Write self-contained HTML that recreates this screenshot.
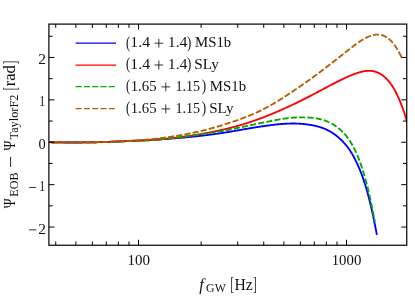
<!DOCTYPE html><html><head><meta charset="utf-8"><style>html,body{margin:0;padding:0;background:#fff}</style></head><body><svg width="415" height="298" viewBox="0 0 415 298" style="display:block;will-change:transform"><rect width="415" height="298" fill="#fff"/><clipPath id="c"><rect x="48.9" y="24.1" width="357.85" height="221.15"/></clipPath><g fill="none" clip-path="url(#c)" stroke-linejoin="round"><path d="M49.00,142.14 L49.50,142.15 L50.00,142.17 L50.50,142.18 L51.00,142.19 L51.50,142.21 L52.00,142.22 L52.50,142.23 L53.00,142.25 L53.50,142.26 L54.00,142.27 L54.50,142.28 L55.00,142.29 L55.50,142.30 L56.00,142.31 L56.50,142.33 L57.00,142.34 L57.50,142.34 L58.00,142.35 L58.50,142.36 L59.00,142.37 L59.50,142.38 L60.00,142.39 L60.50,142.40 L61.00,142.40 L61.50,142.41 L62.00,142.42 L62.50,142.42 L63.00,142.43 L63.50,142.44 L64.00,142.44 L64.50,142.45 L65.00,142.45 L65.50,142.46 L66.00,142.46 L66.50,142.47 L67.00,142.47 L67.50,142.47 L68.00,142.48 L68.50,142.48 L69.00,142.48 L69.50,142.48 L70.00,142.49 L70.50,142.49 L71.00,142.49 L71.50,142.49 L72.00,142.49 L72.50,142.49 L73.00,142.49 L73.50,142.49 L74.00,142.49 L74.50,142.49 L75.00,142.49 L75.50,142.49 L76.00,142.49 L76.50,142.49 L77.00,142.49 L77.50,142.48 L78.00,142.48 L78.50,142.48 L79.00,142.47 L79.50,142.47 L80.00,142.47 L80.50,142.46 L81.00,142.46 L81.50,142.46 L82.00,142.45 L82.50,142.45 L83.00,142.44 L83.50,142.43 L84.00,142.43 L84.50,142.42 L85.00,142.42 L85.50,142.41 L86.00,142.40 L86.50,142.40 L87.00,142.39 L87.50,142.38 L88.00,142.37 L88.50,142.37 L89.00,142.36 L89.50,142.35 L90.00,142.34 L90.50,142.33 L91.00,142.32 L91.50,142.31 L92.00,142.30 L92.50,142.29 L93.00,142.28 L93.50,142.27 L94.00,142.26 L94.50,142.25 L95.00,142.24 L95.50,142.22 L96.00,142.21 L96.50,142.20 L97.00,142.19 L97.50,142.18 L98.00,142.16 L98.50,142.15 L99.00,142.14 L99.50,142.12 L100.00,142.11 L100.50,142.09 L101.00,142.08 L101.50,142.07 L102.00,142.05 L102.50,142.04 L103.00,142.02 L103.50,142.01 L104.00,141.99 L104.50,141.97 L105.00,141.96 L105.50,141.94 L106.00,141.92 L106.50,141.91 L107.00,141.89 L107.50,141.87 L108.00,141.86 L108.50,141.84 L109.00,141.82 L109.50,141.80 L110.00,141.78 L110.50,141.77 L111.00,141.75 L111.50,141.73 L112.00,141.71 L112.50,141.69 L113.00,141.67 L113.50,141.65 L114.00,141.63 L114.50,141.61 L115.00,141.59 L115.50,141.57 L116.00,141.55 L116.50,141.53 L117.00,141.50 L117.50,141.48 L118.00,141.46 L118.50,141.44 L119.00,141.42 L119.50,141.40 L120.00,141.37 L120.50,141.35 L121.00,141.33 L121.50,141.30 L122.00,141.28 L122.50,141.26 L123.00,141.23 L123.50,141.21 L124.00,141.19 L124.50,141.16 L125.00,141.14 L125.50,141.11 L126.00,141.09 L126.50,141.06 L127.00,141.04 L127.50,141.01 L128.00,140.99 L128.50,140.97 L129.00,140.95 L129.50,140.93 L130.00,140.91 L130.50,140.88 L131.00,140.86 L131.50,140.84 L132.00,140.82 L132.50,140.80 L133.00,140.78 L133.50,140.75 L134.00,140.73 L134.50,140.71 L135.00,140.69 L135.50,140.66 L136.00,140.64 L136.50,140.62 L137.00,140.60 L137.50,140.57 L138.00,140.55 L138.50,140.52 L139.00,140.50 L139.50,140.48 L140.00,140.45 L140.50,140.43 L141.00,140.40 L141.50,140.38 L142.00,140.35 L142.50,140.33 L143.00,140.30 L143.50,140.28 L144.00,140.25 L144.50,140.23 L145.00,140.20 L145.50,140.18 L146.00,140.15 L146.50,140.12 L147.00,140.10 L147.50,140.07 L148.00,140.04 L148.50,140.02 L149.00,139.99 L149.50,139.96 L150.00,139.94 L150.50,139.91 L151.00,139.88 L151.50,139.85 L152.00,139.83 L152.50,139.80 L153.00,139.77 L153.50,139.74 L154.00,139.71 L154.50,139.69 L155.00,139.66 L155.50,139.63 L156.00,139.60 L156.50,139.57 L157.00,139.54 L157.50,139.50 L158.00,139.47 L158.50,139.44 L159.00,139.40 L159.50,139.37 L160.00,139.34 L160.50,139.30 L161.00,139.27 L161.50,139.24 L162.00,139.20 L162.50,139.17 L163.00,139.14 L163.50,139.10 L164.00,139.07 L164.50,139.03 L165.00,139.00 L165.50,138.96 L166.00,138.93 L166.50,138.89 L167.00,138.86 L167.50,138.82 L168.00,138.78 L168.50,138.75 L169.00,138.71 L169.50,138.68 L170.00,138.64 L170.50,138.60 L171.00,138.56 L171.50,138.53 L172.00,138.49 L172.50,138.45 L173.00,138.41 L173.50,138.38 L174.00,138.34 L174.50,138.30 L175.00,138.26 L175.50,138.22 L176.00,138.18 L176.50,138.14 L177.00,138.10 L177.50,138.06 L178.00,138.02 L178.50,137.98 L179.00,137.94 L179.50,137.90 L180.00,137.86 L180.50,137.82 L181.00,137.77 L181.50,137.73 L182.00,137.69 L182.50,137.65 L183.00,137.60 L183.50,137.56 L184.00,137.52 L184.50,137.47 L185.00,137.43 L185.50,137.38 L186.00,137.33 L186.50,137.29 L187.00,137.24 L187.50,137.19 L188.00,137.14 L188.50,137.10 L189.00,137.05 L189.50,137.00 L190.00,136.95 L190.50,136.90 L191.00,136.85 L191.50,136.80 L192.00,136.75 L192.50,136.70 L193.00,136.65 L193.50,136.60 L194.00,136.54 L194.50,136.49 L195.00,136.44 L195.50,136.39 L196.00,136.33 L196.50,136.28 L197.00,136.22 L197.50,136.17 L198.00,136.12 L198.50,136.06 L199.00,136.00 L199.50,135.95 L200.00,135.89 L200.50,135.84 L201.00,135.78 L201.50,135.72 L202.00,135.66 L202.50,135.60 L203.00,135.55 L203.50,135.49 L204.00,135.43 L204.50,135.37 L205.00,135.31 L205.50,135.24 L206.00,135.18 L206.50,135.12 L207.00,135.06 L207.50,135.00 L208.00,134.93 L208.50,134.87 L209.00,134.81 L209.50,134.74 L210.00,134.68 L210.50,134.61 L211.00,134.54 L211.50,134.48 L212.00,134.41 L212.50,134.34 L213.00,134.28 L213.50,134.21 L214.00,134.15 L214.50,134.08 L215.00,134.01 L215.50,133.94 L216.00,133.87 L216.50,133.80 L217.00,133.73 L217.50,133.66 L218.00,133.59 L218.50,133.52 L219.00,133.45 L219.50,133.37 L220.00,133.30 L220.50,133.23 L221.00,133.15 L221.50,133.08 L222.00,133.00 L222.50,132.93 L223.00,132.85 L223.50,132.77 L224.00,132.70 L224.50,132.62 L225.00,132.54 L225.50,132.46 L226.00,132.38 L226.50,132.30 L227.00,132.22 L227.50,132.14 L228.00,132.06 L228.50,131.97 L229.00,131.89 L229.50,131.81 L230.00,131.72 L230.50,131.64 L231.00,131.55 L231.50,131.47 L232.00,131.38 L232.50,131.30 L233.00,131.21 L233.50,131.12 L234.00,131.04 L234.50,130.95 L235.00,130.86 L235.50,130.78 L236.00,130.69 L236.50,130.60 L237.00,130.51 L237.50,130.42 L238.00,130.33 L238.50,130.25 L239.00,130.16 L239.50,130.07 L240.00,129.98 L240.50,129.89 L241.00,129.81 L241.50,129.72 L242.00,129.63 L242.50,129.54 L243.00,129.46 L243.50,129.37 L244.00,129.28 L244.50,129.19 L245.00,129.11 L245.50,129.02 L246.00,128.93 L246.50,128.85 L247.00,128.76 L247.50,128.68 L248.00,128.59 L248.50,128.50 L249.00,128.42 L249.50,128.33 L250.00,128.25 L250.50,128.16 L251.00,128.08 L251.50,128.00 L252.00,127.91 L252.50,127.83 L253.00,127.75 L253.50,127.66 L254.00,127.58 L254.50,127.50 L255.00,127.42 L255.50,127.34 L256.00,127.26 L256.50,127.18 L257.00,127.10 L257.50,127.02 L258.00,126.95 L258.50,126.87 L259.00,126.79 L259.50,126.72 L260.00,126.64 L260.50,126.57 L261.00,126.49 L261.50,126.42 L262.00,126.35 L262.50,126.28 L263.00,126.21 L263.50,126.14 L264.00,126.07 L264.50,126.00 L265.00,125.93 L265.50,125.86 L266.00,125.80 L266.50,125.73 L267.00,125.67 L267.50,125.61 L268.00,125.54 L268.50,125.47 L269.00,125.40 L269.50,125.33 L270.00,125.26 L270.50,125.19 L271.00,125.13 L271.50,125.06 L272.00,125.00 L272.50,124.93 L273.00,124.87 L273.50,124.81 L274.00,124.75 L274.50,124.69 L275.00,124.63 L275.50,124.58 L276.00,124.52 L276.50,124.47 L277.00,124.42 L277.50,124.36 L278.00,124.31 L278.50,124.27 L279.00,124.22 L279.50,124.17 L280.00,124.13 L280.50,124.09 L281.00,124.04 L281.50,124.00 L282.00,123.97 L282.50,123.93 L283.00,123.89 L283.50,123.86 L284.00,123.83 L284.50,123.79 L285.00,123.77 L285.50,123.74 L286.00,123.71 L286.50,123.69 L287.00,123.66 L287.50,123.64 L288.00,123.62 L288.50,123.60 L289.00,123.59 L289.50,123.57 L290.00,123.56 L290.50,123.55 L291.00,123.54 L291.50,123.53 L292.00,123.53 L292.50,123.53 L293.00,123.52 L293.50,123.52 L294.00,123.53 L294.50,123.53 L295.00,123.54 L295.50,123.54 L296.00,123.55 L296.50,123.57 L297.00,123.59 L297.50,123.61 L298.00,123.64 L298.50,123.66 L299.00,123.69 L299.50,123.72 L300.00,123.75 L300.50,123.78 L301.00,123.82 L301.50,123.86 L302.00,123.90 L302.50,123.94 L303.00,123.99 L303.50,124.03 L304.00,124.08 L304.50,124.14 L305.00,124.19 L305.50,124.25 L306.00,124.30 L306.50,124.37 L307.00,124.43 L307.50,124.50 L308.00,124.56 L308.50,124.63 L309.00,124.71 L309.50,124.78 L310.00,124.86 L310.50,124.94 L311.00,125.03 L311.50,125.11 L312.00,125.20 L312.50,125.29 L313.00,125.39 L313.50,125.49 L314.00,125.59 L314.50,125.70 L315.00,125.80 L315.50,125.92 L316.00,126.03 L316.50,126.15 L317.00,126.28 L317.50,126.41 L318.00,126.54 L318.50,126.68 L319.00,126.82 L319.50,126.97 L320.00,127.12 L320.50,127.28 L321.00,127.44 L321.50,127.61 L322.00,127.78 L322.50,127.96 L323.00,128.14 L323.50,128.33 L324.00,128.53 L324.50,128.74 L325.00,128.95 L325.50,129.17 L326.00,129.39 L326.50,129.62 L327.00,129.86 L327.50,130.11 L328.00,130.36 L328.50,130.62 L329.00,130.88 L329.50,131.16 L330.00,131.44 L330.50,131.72 L331.00,132.02 L331.50,132.32 L332.00,132.63 L332.50,132.95 L333.00,133.28 L333.50,133.62 L334.00,133.96 L334.50,134.31 L335.00,134.68 L335.50,135.05 L336.00,135.43 L336.50,135.81 L337.00,136.21 L337.50,136.62 L338.00,137.03 L338.50,137.46 L339.00,137.89 L339.50,138.34 L340.00,138.79 L340.50,139.26 L341.00,139.74 L341.50,140.22 L342.00,140.72 L342.50,141.23 L343.00,141.75 L343.50,142.28 L344.00,142.83 L344.50,143.38 L345.00,143.95 L345.50,144.53 L346.00,145.12 L346.50,145.73 L347.00,146.34 L347.50,146.98 L348.00,147.63 L348.50,148.30 L349.00,148.98 L349.50,149.68 L349.98,150.40 L350.44,151.13 L350.91,151.89 L351.37,152.66 L351.83,153.45 L352.30,154.06 L352.75,154.90 L353.21,155.76 L353.67,156.63 L354.12,157.53 L354.58,158.45 L355.03,159.39 L355.50,160.35 L356.00,161.34 L356.50,162.35 L357.00,163.38 L357.50,164.43 L358.00,165.51 L358.50,166.62 L359.00,167.77 L359.50,168.94 L360.00,170.14 L360.50,171.38 L361.00,172.66 L361.50,173.97 L362.00,175.33 L362.50,176.72 L363.00,178.16 L363.50,179.65 L364.01,181.18 L364.53,182.76 L365.05,184.39 L365.58,186.07 L366.10,187.81 L366.62,189.60 L367.14,191.44 L367.67,193.35 L368.19,195.31 L368.72,197.34 L369.25,199.42 L369.79,201.56 L370.32,203.75 L370.86,205.99 L371.39,208.27 L371.93,210.60 L372.47,212.96 L373.00,215.36 L373.50,217.79 L374.00,220.25 L374.50,222.73 L375.00,225.24 L375.50,227.77 L376.00,230.31 L376.50,232.87 L376.90,234.92" stroke="#0000ff" stroke-width="1.85"/><path d="M49.00,142.17 L49.50,142.18 L50.00,142.19 L50.50,142.20 L51.00,142.20 L51.50,142.21 L52.00,142.22 L52.50,142.23 L53.00,142.24 L53.50,142.24 L54.00,142.25 L54.50,142.26 L55.00,142.27 L55.50,142.27 L56.00,142.28 L56.50,142.29 L57.00,142.29 L57.50,142.30 L58.00,142.31 L58.50,142.31 L59.00,142.32 L59.50,142.32 L60.00,142.33 L60.50,142.33 L61.00,142.34 L61.50,142.34 L62.00,142.35 L62.50,142.35 L63.00,142.36 L63.50,142.36 L64.00,142.37 L64.50,142.37 L65.00,142.37 L65.50,142.38 L66.00,142.38 L66.50,142.38 L67.00,142.39 L67.50,142.39 L68.00,142.39 L68.50,142.40 L69.00,142.40 L69.50,142.40 L70.00,142.40 L70.50,142.40 L71.00,142.40 L71.50,142.41 L72.00,142.41 L72.50,142.41 L73.00,142.41 L73.50,142.41 L74.00,142.41 L74.50,142.41 L75.00,142.41 L75.50,142.41 L76.00,142.41 L76.50,142.41 L77.00,142.41 L77.50,142.41 L78.00,142.40 L78.50,142.40 L79.00,142.40 L79.50,142.40 L80.00,142.40 L80.50,142.39 L81.00,142.39 L81.50,142.39 L82.00,142.39 L82.50,142.38 L83.00,142.38 L83.50,142.38 L84.00,142.37 L84.50,142.37 L85.00,142.36 L85.50,142.36 L86.00,142.35 L86.50,142.35 L87.00,142.34 L87.50,142.34 L88.00,142.33 L88.50,142.33 L89.00,142.32 L89.50,142.31 L90.00,142.31 L90.50,142.30 L91.00,142.29 L91.50,142.29 L92.00,142.28 L92.50,142.27 L93.00,142.26 L93.50,142.25 L94.00,142.25 L94.50,142.24 L95.00,142.23 L95.50,142.22 L96.00,142.21 L96.50,142.20 L97.00,142.19 L97.50,142.18 L98.00,142.17 L98.50,142.16 L99.00,142.15 L99.50,142.14 L100.00,142.13 L100.50,142.11 L101.00,142.10 L101.50,142.09 L102.00,142.08 L102.50,142.07 L103.00,142.05 L103.50,142.04 L104.00,142.03 L104.50,142.01 L105.00,142.00 L105.50,141.99 L106.00,141.97 L106.50,141.96 L107.00,141.94 L107.50,141.93 L108.00,141.91 L108.50,141.90 L109.00,141.88 L109.50,141.86 L110.00,141.85 L110.50,141.83 L111.00,141.81 L111.50,141.80 L112.00,141.78 L112.50,141.76 L113.00,141.74 L113.50,141.72 L114.00,141.71 L114.50,141.69 L115.00,141.67 L115.50,141.65 L116.00,141.63 L116.50,141.61 L117.00,141.59 L117.50,141.57 L118.00,141.55 L118.50,141.53 L119.00,141.51 L119.50,141.48 L120.00,141.46 L120.50,141.44 L121.00,141.42 L121.50,141.39 L122.00,141.37 L122.50,141.35 L123.00,141.32 L123.50,141.30 L124.00,141.28 L124.50,141.25 L125.00,141.23 L125.50,141.20 L126.00,141.18 L126.50,141.15 L127.00,141.13 L127.50,141.10 L128.00,141.07 L128.50,141.06 L129.00,141.04 L129.50,141.03 L130.00,141.01 L130.50,141.00 L131.00,140.98 L131.50,140.97 L132.00,140.95 L132.50,140.93 L133.00,140.92 L133.50,140.90 L134.00,140.88 L134.50,140.86 L135.00,140.85 L135.50,140.83 L136.00,140.81 L136.50,140.79 L137.00,140.77 L137.50,140.75 L138.00,140.73 L138.50,140.71 L139.00,140.69 L139.50,140.67 L140.00,140.65 L140.50,140.63 L141.00,140.60 L141.50,140.58 L142.00,140.56 L142.50,140.54 L143.00,140.51 L143.50,140.49 L144.00,140.47 L144.50,140.44 L145.00,140.42 L145.50,140.39 L146.00,140.37 L146.50,140.34 L147.00,140.32 L147.50,140.29 L148.00,140.26 L148.50,140.24 L149.00,140.21 L149.50,140.18 L150.00,140.15 L150.50,140.12 L151.00,140.10 L151.50,140.07 L152.00,140.04 L152.50,140.01 L153.00,139.98 L153.50,139.95 L154.00,139.92 L154.50,139.89 L155.00,139.86 L155.50,139.82 L156.00,139.79 L156.50,139.75 L157.00,139.70 L157.50,139.66 L158.00,139.61 L158.50,139.57 L159.00,139.52 L159.50,139.47 L160.00,139.43 L160.50,139.38 L161.00,139.33 L161.50,139.28 L162.00,139.23 L162.50,139.18 L163.00,139.14 L163.50,139.09 L164.00,139.04 L164.50,138.99 L165.00,138.93 L165.50,138.88 L166.00,138.83 L166.50,138.78 L167.00,138.73 L167.50,138.68 L168.00,138.62 L168.50,138.57 L169.00,138.52 L169.50,138.46 L170.00,138.41 L170.50,138.35 L171.00,138.30 L171.50,138.24 L172.00,138.19 L172.50,138.13 L173.00,138.07 L173.50,138.02 L174.00,137.96 L174.50,137.90 L175.00,137.84 L175.50,137.78 L176.00,137.73 L176.50,137.67 L177.00,137.61 L177.50,137.55 L178.00,137.49 L178.50,137.43 L179.00,137.36 L179.50,137.30 L180.00,137.24 L180.50,137.18 L181.00,137.11 L181.50,137.05 L182.00,136.99 L182.50,136.92 L183.00,136.86 L183.50,136.79 L184.00,136.73 L184.50,136.66 L185.00,136.59 L185.50,136.52 L186.00,136.44 L186.50,136.37 L187.00,136.30 L187.50,136.23 L188.00,136.15 L188.50,136.08 L189.00,136.01 L189.50,135.93 L190.00,135.85 L190.50,135.78 L191.00,135.70 L191.50,135.63 L192.00,135.55 L192.50,135.47 L193.00,135.39 L193.50,135.31 L194.00,135.23 L194.50,135.15 L195.00,135.07 L195.50,134.99 L196.00,134.91 L196.50,134.82 L197.00,134.74 L197.50,134.66 L198.00,134.57 L198.50,134.49 L199.00,134.40 L199.50,134.31 L200.00,134.23 L200.50,134.14 L201.00,134.05 L201.50,133.96 L202.00,133.87 L202.50,133.78 L203.00,133.69 L203.50,133.60 L204.00,133.51 L204.50,133.41 L205.00,133.32 L205.50,133.23 L206.00,133.13 L206.50,133.03 L207.00,132.94 L207.50,132.84 L208.00,132.74 L208.50,132.64 L209.00,132.55 L209.50,132.45 L210.00,132.34 L210.50,132.24 L211.00,132.14 L211.50,132.04 L212.00,131.93 L212.50,131.84 L213.00,131.74 L213.50,131.65 L214.00,131.55 L214.50,131.45 L215.00,131.35 L215.50,131.25 L216.00,131.15 L216.50,131.05 L217.00,130.94 L217.50,130.84 L218.00,130.74 L218.50,130.63 L219.00,130.53 L219.50,130.42 L220.00,130.31 L220.50,130.20 L221.00,130.09 L221.50,129.98 L222.00,129.87 L222.50,129.76 L223.00,129.65 L223.50,129.54 L224.00,129.42 L224.50,129.31 L225.00,129.19 L225.50,129.07 L226.00,128.95 L226.50,128.84 L227.00,128.72 L227.50,128.60 L228.00,128.47 L228.50,128.35 L229.00,128.23 L229.50,128.10 L230.00,127.98 L230.50,127.85 L231.00,127.73 L231.50,127.60 L232.00,127.47 L232.50,127.34 L233.00,127.21 L233.50,127.08 L234.00,126.94 L234.50,126.81 L235.00,126.68 L235.50,126.54 L236.00,126.40 L236.50,126.27 L237.00,126.13 L237.50,125.99 L238.00,125.85 L238.50,125.71 L239.00,125.56 L239.50,125.42 L240.00,125.27 L240.50,125.13 L241.00,124.98 L241.50,124.82 L242.00,124.67 L242.50,124.52 L243.00,124.37 L243.50,124.21 L244.00,124.05 L244.50,123.90 L245.00,123.74 L245.50,123.58 L246.00,123.42 L246.50,123.26 L247.00,123.10 L247.50,122.94 L248.00,122.77 L248.50,122.61 L249.00,122.45 L249.50,122.28 L250.00,122.11 L250.50,121.94 L251.00,121.78 L251.50,121.61 L252.00,121.44 L252.50,121.26 L253.00,121.09 L253.50,120.92 L254.00,120.74 L254.50,120.57 L255.00,120.39 L255.50,120.22 L256.00,120.04 L256.50,119.86 L257.00,119.68 L257.50,119.50 L258.00,119.32 L258.50,119.14 L259.00,118.95 L259.50,118.77 L260.00,118.59 L260.50,118.40 L261.00,118.21 L261.50,118.03 L262.00,117.84 L262.50,117.65 L263.00,117.46 L263.50,117.27 L264.00,117.08 L264.50,116.89 L265.00,116.70 L265.50,116.50 L266.00,116.31 L266.50,116.11 L267.00,115.92 L267.50,115.72 L268.00,115.52 L268.50,115.32 L269.00,115.12 L269.50,114.91 L270.00,114.71 L270.50,114.50 L271.00,114.30 L271.50,114.09 L272.00,113.88 L272.50,113.68 L273.00,113.47 L273.50,113.26 L274.00,113.05 L274.50,112.84 L275.00,112.62 L275.50,112.41 L276.00,112.20 L276.50,111.98 L277.00,111.77 L277.50,111.55 L278.00,111.34 L278.50,111.12 L279.00,110.90 L279.50,110.68 L280.00,110.46 L280.50,110.24 L281.00,110.02 L281.50,109.80 L282.00,109.58 L282.50,109.36 L283.00,109.13 L283.50,108.91 L284.00,108.68 L284.50,108.46 L285.00,108.23 L285.50,108.01 L286.00,107.78 L286.50,107.55 L287.00,107.32 L287.50,107.09 L288.00,106.86 L288.50,106.63 L289.00,106.40 L289.50,106.17 L290.00,105.93 L290.50,105.70 L291.00,105.47 L291.50,105.23 L292.00,105.00 L292.50,104.76 L293.00,104.52 L293.50,104.28 L294.00,104.05 L294.50,103.81 L295.00,103.57 L295.50,103.33 L296.00,103.09 L296.50,102.85 L297.00,102.60 L297.50,102.36 L298.00,102.11 L298.50,101.87 L299.00,101.62 L299.50,101.38 L300.00,101.13 L300.50,100.88 L301.00,100.64 L301.50,100.39 L302.00,100.14 L302.50,99.89 L303.00,99.64 L303.50,99.39 L304.00,99.14 L304.50,98.89 L305.00,98.63 L305.50,98.38 L306.00,98.13 L306.50,97.87 L307.00,97.62 L307.50,97.36 L308.00,97.11 L308.50,96.85 L309.00,96.60 L309.50,96.34 L310.00,96.08 L310.50,95.82 L311.00,95.56 L311.50,95.30 L312.00,95.04 L312.50,94.78 L313.00,94.52 L313.50,94.26 L314.00,94.00 L314.50,93.74 L315.00,93.48 L315.50,93.21 L316.00,92.95 L316.50,92.68 L317.00,92.42 L317.50,92.15 L318.00,91.89 L318.50,91.62 L319.00,91.36 L319.50,91.09 L320.00,90.82 L320.50,90.55 L321.00,90.29 L321.50,90.02 L322.00,89.75 L322.50,89.48 L323.00,89.21 L323.50,88.94 L324.00,88.67 L324.50,88.40 L325.00,88.13 L325.50,87.87 L326.00,87.60 L326.50,87.33 L327.00,87.06 L327.50,86.79 L328.00,86.52 L328.50,86.26 L329.00,85.99 L329.50,85.73 L330.00,85.46 L330.50,85.20 L331.00,84.94 L331.50,84.67 L332.00,84.41 L332.50,84.15 L333.00,83.89 L333.50,83.63 L334.00,83.37 L334.50,83.11 L335.00,82.85 L335.50,82.60 L336.00,82.34 L336.50,82.09 L337.00,81.83 L337.50,81.58 L338.00,81.33 L338.50,81.08 L339.00,80.83 L339.50,80.59 L340.00,80.34 L340.50,80.10 L341.00,79.85 L341.50,79.61 L342.00,79.37 L342.50,79.13 L343.00,78.89 L343.50,78.66 L344.00,78.42 L344.50,78.19 L345.00,77.96 L345.50,77.73 L346.00,77.51 L346.50,77.28 L347.00,77.06 L347.50,76.84 L348.00,76.62 L348.50,76.40 L349.00,76.19 L349.50,75.98 L350.00,75.77 L350.50,75.56 L351.00,75.35 L351.50,75.15 L352.00,74.95 L352.50,74.75 L353.00,74.55 L353.50,74.36 L354.00,74.17 L354.50,73.98 L355.00,73.79 L355.50,73.61 L356.00,73.43 L356.50,73.26 L357.00,73.09 L357.50,72.92 L358.00,72.76 L358.50,72.60 L359.00,72.45 L359.50,72.30 L360.00,72.16 L360.50,72.03 L361.00,71.90 L361.50,71.77 L362.00,71.66 L362.50,71.54 L363.00,71.44 L363.50,71.34 L364.00,71.25 L364.50,71.17 L365.00,71.10 L365.50,71.03 L366.00,70.97 L366.50,70.93 L367.00,70.88 L367.50,70.85 L368.00,70.83 L368.50,70.82 L369.00,70.82 L369.50,70.82 L370.00,70.84 L370.50,70.87 L371.00,70.91 L371.50,70.95 L372.00,71.01 L372.50,71.09 L373.00,71.17 L373.50,71.27 L374.00,71.37 L374.50,71.49 L375.00,71.62 L375.50,71.77 L376.00,71.93 L376.50,72.10 L377.00,72.28 L377.50,72.48 L378.00,72.70 L378.50,72.93 L379.00,73.17 L379.50,73.43 L380.00,73.71 L380.50,74.00 L381.00,74.30 L381.50,74.63 L382.00,74.97 L382.50,75.33 L383.00,75.71 L383.50,76.11 L384.00,76.52 L384.50,76.93 L385.00,77.37 L385.50,77.82 L386.00,78.29 L386.50,78.78 L387.00,79.29 L387.50,79.83 L388.00,80.38 L388.50,80.96 L389.00,81.56 L389.50,82.18 L390.00,82.83 L390.50,83.49 L391.00,84.19 L391.50,84.90 L392.00,85.64 L392.50,86.41 L393.00,87.20 L393.50,88.01 L394.00,88.85 L394.50,89.72 L395.00,90.61 L395.50,91.55 L396.00,92.52 L396.50,93.52 L397.00,94.55 L397.50,95.60 L398.00,96.68 L398.50,97.79 L399.00,98.93 L399.50,100.10 L400.00,101.30 L400.50,102.53 L401.00,103.79 L401.50,105.08 L402.00,106.41 L402.50,107.76 L403.00,109.15 L403.50,110.56 L404.00,112.02 L404.50,113.50 L405.00,115.02 L405.50,116.57 L406.00,118.16 L406.50,119.78 L407.00,121.43 L407.50,123.12" stroke="#ff0000" stroke-width="1.85"/><path d="M49.00,142.18 L49.50,142.18 L50.00,142.19 L50.50,142.20 L51.00,142.20 L51.50,142.21 L52.00,142.22 L52.50,142.22 L53.00,142.23 L53.50,142.24 L54.00,142.24 L54.50,142.25 L55.00,142.25 L55.50,142.26 L56.00,142.27 L56.50,142.27 L57.00,142.28 L57.50,142.28 L58.00,142.29 L58.50,142.29 L59.00,142.30 L59.50,142.30 L60.00,142.31 L60.50,142.31 L61.00,142.32 L61.50,142.32 L62.00,142.32 L62.50,142.33 L63.00,142.33 L63.50,142.34 L64.00,142.34 L64.50,142.34 L65.00,142.35 L65.50,142.35 L66.00,142.35 L66.50,142.36 L67.00,142.36 L67.50,142.36 L68.00,142.36 L68.50,142.37 L69.00,142.37 L69.50,142.37 L70.00,142.37 L70.50,142.37 L71.00,142.37 L71.50,142.38 L72.00,142.38 L72.50,142.38 L73.00,142.38 L73.50,142.38 L74.00,142.38 L74.50,142.38 L75.00,142.38 L75.50,142.38 L76.00,142.38 L76.50,142.38 L77.00,142.38 L77.50,142.38 L78.00,142.38 L78.50,142.38 L79.00,142.38 L79.50,142.38 L80.00,142.37 L80.50,142.37 L81.00,142.37 L81.50,142.37 L82.00,142.37 L82.50,142.36 L83.00,142.36 L83.50,142.36 L84.00,142.35 L84.50,142.35 L85.00,142.35 L85.50,142.34 L86.00,142.34 L86.50,142.34 L87.00,142.33 L87.50,142.33 L88.00,142.32 L88.50,142.32 L89.00,142.31 L89.50,142.31 L90.00,142.30 L90.50,142.30 L91.00,142.29 L91.50,142.28 L92.00,142.28 L92.50,142.27 L93.00,142.26 L93.50,142.26 L94.00,142.25 L94.50,142.24 L95.00,142.23 L95.50,142.22 L96.00,142.22 L96.50,142.21 L97.00,142.20 L97.50,142.19 L98.00,142.18 L98.50,142.17 L99.00,142.16 L99.50,142.15 L100.00,142.14 L100.50,142.13 L101.00,142.12 L101.50,142.11 L102.00,142.10 L102.50,142.09 L103.00,142.07 L103.50,142.06 L104.00,142.05 L104.50,142.04 L105.00,142.03 L105.50,142.01 L106.00,142.00 L106.50,141.99 L107.00,141.97 L107.50,141.96 L108.00,141.94 L108.50,141.93 L109.00,141.91 L109.50,141.90 L110.00,141.88 L110.50,141.87 L111.00,141.85 L111.50,141.84 L112.00,141.82 L112.50,141.80 L113.00,141.78 L113.50,141.77 L114.00,141.75 L114.50,141.73 L115.00,141.71 L115.50,141.69 L116.00,141.68 L116.50,141.66 L117.00,141.64 L117.50,141.62 L118.00,141.60 L118.50,141.58 L119.00,141.56 L119.50,141.54 L120.00,141.51 L120.50,141.49 L121.00,141.47 L121.50,141.45 L122.00,141.43 L122.50,141.40 L123.00,141.38 L123.50,141.36 L124.00,141.33 L124.50,141.31 L125.00,141.28 L125.50,141.26 L126.00,141.24 L126.50,141.21 L127.00,141.18 L127.50,141.16 L128.00,141.13 L128.50,141.12 L129.00,141.10 L129.50,141.09 L130.00,141.07 L130.50,141.06 L131.00,141.04 L131.50,141.03 L132.00,141.01 L132.50,140.99 L133.00,140.98 L133.50,140.96 L134.00,140.94 L134.50,140.92 L135.00,140.90 L135.50,140.88 L136.00,140.86 L136.50,140.84 L137.00,140.82 L137.50,140.80 L138.00,140.78 L138.50,140.76 L139.00,140.74 L139.50,140.72 L140.00,140.70 L140.50,140.67 L141.00,140.65 L141.50,140.63 L142.00,140.60 L142.50,140.58 L143.00,140.56 L143.50,140.53 L144.00,140.51 L144.50,140.48 L145.00,140.46 L145.50,140.43 L146.00,140.40 L146.50,140.38 L147.00,140.35 L147.50,140.32 L148.00,140.29 L148.50,140.26 L149.00,140.23 L149.50,140.20 L150.00,140.18 L150.50,140.14 L151.00,140.11 L151.50,140.08 L152.00,140.05 L152.50,140.02 L153.00,139.99 L153.50,139.96 L154.00,139.92 L154.50,139.89 L155.00,139.86 L155.50,139.82 L156.00,139.79 L156.50,139.74 L157.00,139.69 L157.50,139.64 L158.00,139.59 L158.50,139.54 L159.00,139.49 L159.50,139.44 L160.00,139.39 L160.50,139.34 L161.00,139.29 L161.50,139.24 L162.00,139.19 L162.50,139.14 L163.00,139.08 L163.50,139.03 L164.00,138.98 L164.50,138.92 L165.00,138.87 L165.50,138.81 L166.00,138.76 L166.50,138.71 L167.00,138.65 L167.50,138.59 L168.00,138.54 L168.50,138.48 L169.00,138.42 L169.50,138.37 L170.00,138.31 L170.50,138.25 L171.00,138.20 L171.50,138.14 L172.00,138.08 L172.50,138.02 L173.00,137.96 L173.50,137.90 L174.00,137.84 L174.50,137.78 L175.00,137.72 L175.50,137.66 L176.00,137.60 L176.50,137.54 L177.00,137.48 L177.50,137.42 L178.00,137.36 L178.50,137.30 L179.00,137.24 L179.50,137.18 L180.00,137.12 L180.50,137.05 L181.00,136.99 L181.50,136.93 L182.00,136.87 L182.50,136.81 L183.00,136.74 L183.50,136.68 L184.00,136.62 L184.50,136.55 L185.00,136.48 L185.50,136.41 L186.00,136.34 L186.50,136.27 L187.00,136.21 L187.50,136.14 L188.00,136.07 L188.50,136.00 L189.00,135.93 L189.50,135.86 L190.00,135.79 L190.50,135.72 L191.00,135.65 L191.50,135.58 L192.00,135.51 L192.50,135.44 L193.00,135.38 L193.50,135.31 L194.00,135.24 L194.50,135.17 L195.00,135.10 L195.50,135.03 L196.00,134.96 L196.50,134.89 L197.00,134.82 L197.50,134.75 L198.00,134.68 L198.50,134.61 L199.00,134.54 L199.50,134.47 L200.00,134.40 L200.50,134.33 L201.00,134.26 L201.50,134.19 L202.00,134.12 L202.50,134.05 L203.00,133.97 L203.50,133.90 L204.00,133.83 L204.50,133.76 L205.00,133.69 L205.50,133.61 L206.00,133.54 L206.50,133.47 L207.00,133.39 L207.50,133.32 L208.00,133.24 L208.50,133.17 L209.00,133.09 L209.50,133.02 L210.00,132.94 L210.50,132.87 L211.00,132.79 L211.50,132.71 L212.00,132.63 L212.50,132.56 L213.00,132.49 L213.50,132.41 L214.00,132.34 L214.50,132.26 L215.00,132.18 L215.50,132.11 L216.00,132.03 L216.50,131.95 L217.00,131.87 L217.50,131.80 L218.00,131.72 L218.50,131.64 L219.00,131.55 L219.50,131.47 L220.00,131.39 L220.50,131.31 L221.00,131.22 L221.50,131.14 L222.00,131.05 L222.50,130.97 L223.00,130.88 L223.50,130.79 L224.00,130.70 L224.50,130.61 L225.00,130.52 L225.50,130.43 L226.00,130.34 L226.50,130.24 L227.00,130.15 L227.50,130.06 L228.00,129.96 L228.50,129.86 L229.00,129.77 L229.50,129.67 L230.00,129.57 L230.50,129.47 L231.00,129.37 L231.50,129.27 L232.00,129.16 L232.50,129.06 L233.00,128.96 L233.50,128.86 L234.00,128.75 L234.50,128.65 L235.00,128.54 L235.50,128.43 L236.00,128.33 L236.50,128.22 L237.00,128.11 L237.50,128.00 L238.00,127.90 L238.50,127.79 L239.00,127.68 L239.50,127.57 L240.00,127.46 L240.50,127.35 L241.00,127.25 L241.50,127.14 L242.00,127.04 L242.50,126.93 L243.00,126.82 L243.50,126.72 L244.00,126.61 L244.50,126.50 L245.00,126.39 L245.50,126.29 L246.00,126.18 L246.50,126.07 L247.00,125.96 L247.50,125.86 L248.00,125.75 L248.50,125.64 L249.00,125.53 L249.50,125.43 L250.00,125.32 L250.50,125.21 L251.00,125.10 L251.50,125.00 L252.00,124.89 L252.50,124.78 L253.00,124.67 L253.50,124.57 L254.00,124.46 L254.50,124.35 L255.00,124.25 L255.50,124.14 L256.00,124.04 L256.50,123.93 L257.00,123.83 L257.50,123.72 L258.00,123.62 L258.50,123.51 L259.00,123.41 L259.50,123.31 L260.00,123.21 L260.50,123.10 L261.00,123.00 L261.50,122.90 L262.00,122.80 L262.50,122.70 L263.00,122.60 L263.50,122.50 L264.00,122.40 L264.50,122.31 L265.00,122.21 L265.50,122.11 L266.00,122.02 L266.50,121.92 L267.00,121.83 L267.50,121.74 L268.00,121.64 L268.50,121.54 L269.00,121.43 L269.50,121.32 L270.00,121.22 L270.50,121.11 L271.00,121.01 L271.50,120.91 L272.00,120.81 L272.50,120.71 L273.00,120.61 L273.50,120.51 L274.00,120.41 L274.50,120.31 L275.00,120.22 L275.50,120.12 L276.00,120.03 L276.50,119.94 L277.00,119.85 L277.50,119.76 L278.00,119.67 L278.50,119.58 L279.00,119.49 L279.50,119.41 L280.00,119.33 L280.50,119.24 L281.00,119.16 L281.50,119.08 L282.00,119.00 L282.50,118.93 L283.00,118.85 L283.50,118.78 L284.00,118.70 L284.50,118.63 L285.00,118.56 L285.50,118.49 L286.00,118.43 L286.50,118.36 L287.00,118.30 L287.50,118.24 L288.00,118.18 L288.50,118.12 L289.00,118.06 L289.50,118.00 L290.00,117.95 L290.50,117.90 L291.00,117.85 L291.50,117.80 L292.00,117.75 L292.50,117.71 L293.00,117.66 L293.50,117.62 L294.00,117.58 L294.50,117.54 L295.00,117.51 L295.50,117.47 L296.00,117.44 L296.50,117.42 L297.00,117.40 L297.50,117.38 L298.00,117.37 L298.50,117.35 L299.00,117.34 L299.50,117.33 L300.00,117.32 L300.50,117.32 L301.00,117.32 L301.50,117.31 L302.00,117.32 L302.50,117.32 L303.00,117.32 L303.50,117.33 L304.00,117.34 L304.50,117.35 L305.00,117.37 L305.50,117.39 L306.00,117.41 L306.50,117.43 L307.00,117.45 L307.50,117.48 L308.00,117.51 L308.50,117.54 L309.00,117.57 L309.50,117.61 L310.00,117.65 L310.50,117.69 L311.00,117.73 L311.50,117.78 L312.00,117.83 L312.50,117.88 L313.00,117.93 L313.50,117.99 L314.00,118.06 L314.50,118.12 L315.00,118.19 L315.50,118.27 L316.00,118.34 L316.50,118.42 L317.00,118.51 L317.50,118.60 L318.00,118.70 L318.50,118.79 L319.00,118.90 L319.50,119.01 L320.00,119.12 L320.50,119.24 L321.00,119.37 L321.50,119.50 L322.00,119.63 L322.50,119.78 L323.00,119.92 L323.50,120.08 L324.00,120.24 L324.50,120.40 L325.00,120.58 L325.50,120.76 L326.00,120.95 L326.50,121.14 L327.00,121.34 L327.50,121.55 L328.00,121.77 L328.50,121.99 L329.00,122.22 L329.50,122.46 L330.00,122.71 L330.50,122.96 L331.00,123.22 L331.50,123.50 L332.00,123.77 L332.50,124.06 L333.00,124.36 L333.50,124.66 L334.00,124.98 L334.50,125.30 L335.00,125.63 L335.50,125.97 L336.00,126.32 L336.50,126.68 L337.00,127.05 L337.50,127.43 L338.00,127.82 L338.50,128.22 L339.00,128.63 L339.50,129.05 L340.00,129.49 L340.50,129.93 L341.00,130.38 L341.50,130.84 L342.00,131.32 L342.50,131.81 L343.00,132.31 L343.50,132.83 L344.00,133.36 L344.50,133.91 L345.00,134.48 L345.50,135.06 L346.00,135.66 L346.50,136.27 L347.00,136.91 L347.50,137.56 L348.00,138.24 L348.50,138.93 L349.00,139.65 L349.50,140.38 L350.00,141.15 L350.50,141.93 L351.00,142.74 L351.50,143.57 L352.00,144.43 L352.50,145.31 L353.00,146.22 L353.50,147.16 L354.00,148.12 L354.50,149.11 L355.00,150.13 L355.50,151.18 L356.00,152.27 L356.50,153.38 L357.00,154.52 L357.50,155.70 L358.00,156.91 L358.50,158.15 L359.00,159.43 L359.50,160.74 L360.00,162.09 L360.50,163.47 L361.00,164.89 L361.50,166.35 L362.00,167.85 L362.50,169.39 L363.00,170.97 L363.50,172.59 L364.00,174.25 L364.50,175.95 L365.00,177.70 L365.50,179.49 L366.00,181.32 L366.50,183.20 L367.00,185.13 L367.50,187.10 L368.00,189.12 L368.50,191.19 L369.00,193.30 L369.50,195.46 L370.00,197.67 L370.50,199.93 L371.00,202.23 L371.50,204.58 L372.00,206.98 L372.50,209.43 L373.00,211.92 L373.50,214.46 L374.00,217.05 L374.50,219.68 L374.90,221.83" stroke="#00aa00" stroke-width="1.85" stroke-dasharray="6.11,2.19" stroke-dashoffset="5.2"/><path d="M49.00,142.16 L49.50,142.17 L50.00,142.18 L50.50,142.19 L51.00,142.19 L51.50,142.20 L52.00,142.21 L52.50,142.22 L53.00,142.22 L53.50,142.23 L54.00,142.24 L54.50,142.24 L55.00,142.25 L55.50,142.26 L56.00,142.26 L56.50,142.27 L57.00,142.28 L57.50,142.28 L58.00,142.29 L58.50,142.30 L59.00,142.30 L59.50,142.31 L60.00,142.31 L60.50,142.32 L61.00,142.32 L61.50,142.33 L62.00,142.33 L62.50,142.34 L63.00,142.34 L63.50,142.35 L64.00,142.35 L64.50,142.36 L65.00,142.36 L65.50,142.37 L66.00,142.37 L66.50,142.37 L67.00,142.38 L67.50,142.38 L68.00,142.38 L68.50,142.39 L69.00,142.39 L69.50,142.39 L70.00,142.40 L70.50,142.40 L71.00,142.40 L71.50,142.40 L72.00,142.40 L72.50,142.41 L73.00,142.41 L73.50,142.41 L74.00,142.41 L74.50,142.41 L75.00,142.41 L75.50,142.41 L76.00,142.41 L76.50,142.41 L77.00,142.41 L77.50,142.41 L78.00,142.41 L78.50,142.41 L79.00,142.41 L79.50,142.41 L80.00,142.41 L80.50,142.41 L81.00,142.41 L81.50,142.41 L82.00,142.40 L82.50,142.40 L83.00,142.40 L83.50,142.40 L84.00,142.39 L84.50,142.39 L85.00,142.39 L85.50,142.38 L86.00,142.38 L86.50,142.37 L87.00,142.37 L87.50,142.36 L88.00,142.36 L88.50,142.35 L89.00,142.35 L89.50,142.34 L90.00,142.34 L90.50,142.33 L91.00,142.32 L91.50,142.32 L92.00,142.31 L92.50,142.30 L93.00,142.30 L93.50,142.29 L94.00,142.28 L94.50,142.27 L95.00,142.26 L95.50,142.25 L96.00,142.25 L96.50,142.24 L97.00,142.23 L97.50,142.22 L98.00,142.21 L98.50,142.19 L99.00,142.18 L99.50,142.17 L100.00,142.16 L100.50,142.15 L101.00,142.14 L101.50,142.12 L102.00,142.11 L102.50,142.10 L103.00,142.09 L103.50,142.07 L104.00,142.06 L104.50,142.04 L105.00,142.03 L105.50,142.01 L106.00,142.00 L106.50,141.98 L107.00,141.97 L107.50,141.95 L108.00,141.93 L108.50,141.92 L109.00,141.90 L109.50,141.88 L110.00,141.86 L110.50,141.84 L111.00,141.83 L111.50,141.81 L112.00,141.79 L112.50,141.77 L113.00,141.75 L113.50,141.73 L114.00,141.71 L114.50,141.68 L115.00,141.66 L115.50,141.64 L116.00,141.62 L116.50,141.59 L117.00,141.57 L117.50,141.55 L118.00,141.52 L118.50,141.50 L119.00,141.48 L119.50,141.45 L120.00,141.42 L120.50,141.40 L121.00,141.37 L121.50,141.35 L122.00,141.32 L122.50,141.29 L123.00,141.26 L123.50,141.24 L124.00,141.21 L124.50,141.18 L125.00,141.15 L125.50,141.12 L126.00,141.09 L126.50,141.06 L127.00,141.03 L127.50,140.99 L128.00,140.96 L128.50,140.94 L129.00,140.91 L129.50,140.88 L130.00,140.85 L130.50,140.82 L131.00,140.79 L131.50,140.76 L132.00,140.73 L132.50,140.70 L133.00,140.67 L133.50,140.64 L134.00,140.61 L134.50,140.58 L135.00,140.54 L135.50,140.51 L136.00,140.48 L136.50,140.44 L137.00,140.41 L137.50,140.37 L138.00,140.34 L138.50,140.30 L139.00,140.26 L139.50,140.23 L140.00,140.19 L140.50,140.15 L141.00,140.11 L141.50,140.07 L142.00,140.04 L142.50,140.00 L143.00,139.95 L143.50,139.91 L144.00,139.87 L144.50,139.83 L145.00,139.79 L145.50,139.75 L146.00,139.70 L146.50,139.66 L147.00,139.61 L147.50,139.57 L148.00,139.52 L148.50,139.48 L149.00,139.43 L149.50,139.38 L150.00,139.34 L150.50,139.29 L151.00,139.24 L151.50,139.19 L152.00,139.14 L152.50,139.09 L153.00,139.04 L153.50,138.99 L154.00,138.94 L154.50,138.89 L155.00,138.83 L155.50,138.78 L156.00,138.73 L156.50,138.67 L157.00,138.61 L157.50,138.55 L158.00,138.49 L158.50,138.43 L159.00,138.37 L159.50,138.31 L160.00,138.25 L160.50,138.18 L161.00,138.12 L161.50,138.06 L162.00,137.99 L162.50,137.93 L163.00,137.86 L163.50,137.80 L164.00,137.73 L164.50,137.66 L165.00,137.59 L165.50,137.53 L166.00,137.46 L166.50,137.39 L167.00,137.32 L167.50,137.25 L168.00,137.18 L168.50,137.11 L169.00,137.03 L169.50,136.96 L170.00,136.89 L170.50,136.82 L171.00,136.74 L171.50,136.67 L172.00,136.59 L172.50,136.52 L173.00,136.44 L173.50,136.36 L174.00,136.28 L174.50,136.21 L175.00,136.13 L175.50,136.05 L176.00,135.97 L176.50,135.89 L177.00,135.81 L177.50,135.73 L178.00,135.64 L178.50,135.56 L179.00,135.48 L179.50,135.40 L180.00,135.31 L180.50,135.23 L181.00,135.14 L181.50,135.06 L182.00,134.97 L182.50,134.88 L183.00,134.79 L183.50,134.71 L184.00,134.62 L184.50,134.52 L185.00,134.42 L185.50,134.33 L186.00,134.23 L186.50,134.13 L187.00,134.03 L187.50,133.93 L188.00,133.83 L188.50,133.73 L189.00,133.63 L189.50,133.53 L190.00,133.43 L190.50,133.32 L191.00,133.22 L191.50,133.11 L192.00,133.01 L192.50,132.90 L193.00,132.80 L193.50,132.69 L194.00,132.59 L194.50,132.48 L195.00,132.37 L195.50,132.26 L196.00,132.15 L196.50,132.04 L197.00,131.93 L197.50,131.82 L198.00,131.71 L198.50,131.60 L199.00,131.48 L199.50,131.37 L200.00,131.25 L200.50,131.14 L201.00,131.02 L201.50,130.90 L202.00,130.78 L202.50,130.66 L203.00,130.54 L203.50,130.41 L204.00,130.29 L204.50,130.17 L205.00,130.04 L205.50,129.91 L206.00,129.78 L206.50,129.65 L207.00,129.52 L207.50,129.39 L208.00,129.25 L208.50,129.12 L209.00,128.98 L209.50,128.84 L210.00,128.70 L210.50,128.56 L211.00,128.41 L211.50,128.27 L212.00,128.12 L212.50,127.99 L213.00,127.87 L213.50,127.74 L214.00,127.61 L214.50,127.48 L215.00,127.34 L215.50,127.21 L216.00,127.07 L216.50,126.93 L217.00,126.79 L217.50,126.64 L218.00,126.50 L218.50,126.35 L219.00,126.20 L219.50,126.05 L220.00,125.90 L220.50,125.75 L221.00,125.59 L221.50,125.44 L222.00,125.28 L222.50,125.12 L223.00,124.96 L223.50,124.80 L224.00,124.64 L224.50,124.48 L225.00,124.32 L225.50,124.15 L226.00,123.99 L226.50,123.82 L227.00,123.66 L227.50,123.49 L228.00,123.33 L228.50,123.16 L229.00,122.99 L229.50,122.83 L230.00,122.66 L230.50,122.49 L231.00,122.33 L231.50,122.16 L232.00,121.99 L232.50,121.83 L233.00,121.66 L233.50,121.50 L234.00,121.33 L234.50,121.17 L235.00,121.01 L235.50,120.85 L236.00,120.68 L236.50,120.52 L237.00,120.36 L237.50,120.21 L238.00,120.05 L238.50,119.85 L239.00,119.66 L239.50,119.46 L240.00,119.27 L240.50,119.08 L241.00,118.88 L241.50,118.69 L242.00,118.49 L242.50,118.30 L243.00,118.11 L243.50,117.91 L244.00,117.72 L244.50,117.53 L245.00,117.33 L245.50,117.13 L246.00,116.94 L246.50,116.74 L247.00,116.54 L247.50,116.34 L248.00,116.14 L248.50,115.94 L249.00,115.74 L249.50,115.54 L250.00,115.33 L250.50,115.13 L251.00,114.92 L251.50,114.71 L252.00,114.50 L252.50,114.28 L253.00,114.07 L253.50,113.85 L254.00,113.63 L254.50,113.41 L255.00,113.19 L255.50,112.96 L256.00,112.74 L256.50,112.51 L257.00,112.27 L257.50,112.04 L258.00,111.80 L258.50,111.56 L259.00,111.31 L259.50,111.07 L260.00,110.82 L260.50,110.56 L261.00,110.31 L261.50,110.05 L262.00,109.79 L262.50,109.55 L263.00,109.30 L263.50,109.06 L264.00,108.81 L264.50,108.56 L265.00,108.30 L265.50,108.05 L266.00,107.79 L266.50,107.53 L267.00,107.27 L267.50,107.00 L268.00,106.73 L268.50,106.46 L269.00,106.19 L269.50,105.92 L270.00,105.64 L270.50,105.36 L271.00,105.08 L271.50,104.80 L272.00,104.52 L272.50,104.23 L273.00,103.94 L273.50,103.65 L274.00,103.36 L274.50,103.07 L275.00,102.77 L275.50,102.47 L276.00,102.17 L276.50,101.87 L277.00,101.57 L277.50,101.27 L278.00,100.96 L278.50,100.65 L279.00,100.35 L279.50,100.04 L280.00,99.72 L280.50,99.41 L281.00,99.10 L281.50,98.78 L282.00,98.46 L282.50,98.15 L283.00,97.83 L283.50,97.51 L284.00,97.18 L284.50,96.86 L285.00,96.54 L285.50,96.21 L286.00,95.88 L286.50,95.56 L287.00,95.23 L287.50,94.90 L288.00,94.57 L288.50,94.24 L289.00,93.91 L289.50,93.57 L290.00,93.24 L290.50,92.90 L291.00,92.57 L291.50,92.23 L292.00,91.90 L292.50,91.56 L293.00,91.22 L293.50,90.88 L294.00,90.54 L294.50,90.20 L295.00,89.86 L295.50,89.52 L296.00,89.17 L296.50,88.83 L297.00,88.50 L297.50,88.16 L298.00,87.82 L298.50,87.48 L299.00,87.13 L299.50,86.79 L300.00,86.45 L300.50,86.10 L301.00,85.76 L301.50,85.42 L302.00,85.07 L302.50,84.72 L303.00,84.38 L303.50,84.03 L304.00,83.68 L304.50,83.33 L305.00,82.98 L305.50,82.63 L306.00,82.28 L306.50,81.93 L307.00,81.58 L307.50,81.23 L308.00,80.87 L308.50,80.52 L309.00,80.17 L309.50,79.81 L310.00,79.46 L310.50,79.10 L311.00,78.74 L311.50,78.39 L312.00,78.03 L312.50,77.67 L313.00,77.31 L313.50,76.95 L314.00,76.59 L314.50,76.22 L315.00,75.84 L315.50,75.47 L316.00,75.09 L316.50,74.72 L317.00,74.34 L317.50,73.96 L318.00,73.59 L318.50,73.21 L319.00,72.83 L319.50,72.45 L320.00,72.07 L320.50,71.69 L321.00,71.31 L321.50,70.93 L322.00,70.55 L322.50,70.17 L323.00,69.79 L323.50,69.40 L324.00,69.02 L324.50,68.64 L325.00,68.25 L325.50,67.87 L326.00,67.49 L326.50,67.10 L327.00,66.72 L327.50,66.33 L328.00,65.94 L328.50,65.56 L329.00,65.17 L329.50,64.79 L330.00,64.40 L330.50,64.01 L331.00,63.62 L331.50,63.23 L332.00,62.85 L332.50,62.46 L333.00,62.07 L333.50,61.68 L334.00,61.29 L334.50,60.90 L335.00,60.51 L335.50,60.12 L336.00,59.73 L336.50,59.34 L337.00,58.95 L337.50,58.55 L338.00,58.16 L338.50,57.77 L339.00,57.38 L339.50,56.99 L340.00,56.59 L340.50,56.20 L341.00,55.81 L341.50,55.42 L342.00,55.03 L342.50,54.64 L343.00,54.25 L343.50,53.85 L344.00,53.46 L344.50,53.07 L345.00,52.68 L345.50,52.29 L346.00,51.89 L346.50,51.50 L347.00,51.11 L347.50,50.72 L348.00,50.32 L348.50,49.93 L349.00,49.54 L349.50,49.14 L350.00,48.75 L350.50,48.36 L351.00,47.97 L351.50,47.58 L352.00,47.19 L352.50,46.81 L353.00,46.43 L353.50,46.04 L354.00,45.67 L354.50,45.29 L355.00,44.92 L355.50,44.54 L356.00,44.18 L356.50,43.81 L357.00,43.45 L357.50,43.10 L358.00,42.75 L358.50,42.40 L359.00,42.05 L359.50,41.72 L360.00,41.38 L360.50,41.06 L361.00,40.73 L361.50,40.42 L362.00,40.10 L362.50,39.80 L363.00,39.50 L363.50,39.21 L364.00,38.92 L364.50,38.65 L365.00,38.38 L365.50,38.11 L366.00,37.86 L366.50,37.61 L367.00,37.37 L367.50,37.14 L368.00,36.91 L368.50,36.70 L369.00,36.49 L369.50,36.30 L370.00,36.11 L370.50,35.93 L371.00,35.76 L371.50,35.59 L372.00,35.44 L372.50,35.30 L373.00,35.17 L373.50,35.05 L374.00,34.94 L374.50,34.85 L375.00,34.76 L375.50,34.69 L376.00,34.64 L376.50,34.59 L377.00,34.56 L377.50,34.55 L378.00,34.55 L378.50,34.56 L379.00,34.59 L379.50,34.64 L380.00,34.70 L380.50,34.78 L381.00,34.89 L381.50,35.01 L382.00,35.14 L382.50,35.30 L383.00,35.47 L383.50,35.66 L384.00,35.87 L384.50,36.10 L385.00,36.34 L385.50,36.61 L386.00,36.89 L386.50,37.20 L387.00,37.53 L387.50,37.87 L388.00,38.24 L388.50,38.63 L389.00,39.04 L389.50,39.47 L390.00,39.93 L390.50,40.40 L391.00,40.91 L391.50,41.43 L392.00,41.98 L392.50,42.55 L393.00,43.14 L393.50,43.76 L394.00,44.41 L394.50,45.08 L395.00,45.78 L395.50,46.50 L396.00,47.24 L396.50,48.02 L397.00,48.82 L397.50,49.65 L398.00,50.51 L398.50,51.39 L399.00,52.30 L399.50,53.24 L400.00,54.21 L400.50,55.21 L401.00,56.24 L401.40,57.08" stroke="#b85c00" stroke-width="1.85" stroke-dasharray="6.11,2.19" stroke-dashoffset="5.2"/></g><path d="M55.73,245.25v-3.8M55.73,24.1v3.8M75.89,245.25v-3.8M75.89,24.1v3.8M92.36,245.25v-3.8M92.36,24.1v3.8M106.28,245.25v-3.8M106.28,24.1v3.8M118.34,245.25v-3.8M118.34,24.1v3.8M128.98,245.25v-3.8M128.98,24.1v3.8M138.50,245.25v-5.5M138.50,24.1v5.5M201.11,245.25v-3.8M201.11,24.1v3.8M237.74,245.25v-3.8M237.74,24.1v3.8M263.73,245.25v-3.8M263.73,24.1v3.8M283.89,245.25v-3.8M283.89,24.1v3.8M300.36,245.25v-3.8M300.36,24.1v3.8M314.28,245.25v-3.8M314.28,24.1v3.8M326.34,245.25v-3.8M326.34,24.1v3.8M336.98,245.25v-3.8M336.98,24.1v3.8M346.50,245.25v-5.5M346.50,24.1v5.5M48.9,227.05h5.5M406.75,227.05h-5.5M48.9,205.85h3.8M406.75,205.85h-3.8M48.9,184.65h5.5M406.75,184.65h-5.5M48.9,163.45h3.8M406.75,163.45h-3.8M48.9,142.25h5.5M406.75,142.25h-5.5M48.9,121.05h3.8M406.75,121.05h-3.8M48.9,99.85h5.5M406.75,99.85h-5.5M48.9,78.65h3.8M406.75,78.65h-3.8M48.9,57.45h5.5M406.75,57.45h-5.5M48.9,36.25h3.8M406.75,36.25h-3.8" stroke="#000" stroke-width="1.0" fill="none"/><rect x="48.9" y="24.1" width="357.85" height="221.15" fill="none" stroke="#000" stroke-width="1.2"/><path d="M75.6,43.15H116.0" stroke="#0000ff" stroke-width="1.25" fill="none"/><path d="M75.6,65.0H116.0" stroke="#ff0000" stroke-width="1.25" fill="none"/><path d="M75.6,86.6H116.0" stroke="#00aa00" stroke-width="1.25" fill="none" stroke-dasharray="6.05,2.25"/><path d="M75.6,108.55H116.0" stroke="#b85c00" stroke-width="1.25" fill="none" stroke-dasharray="6.05,2.25"/><g font-family="Liberation Serif, serif" font-size="14" fill="#111"><text x="126.09" y="47.5" font-size="16.5" textLength="4.14" lengthAdjust="spacingAndGlyphs" >(</text><text x="130.34" y="47.0" font-size="14" textLength="19.69" lengthAdjust="spacingAndGlyphs" >1.4</text><path d="M154.45,43.20h8.8M158.85,38.80v8.8" stroke="#111" stroke-width="0.85" fill="none"/><text x="167.74" y="47.0" font-size="14" textLength="19.80" lengthAdjust="spacingAndGlyphs" >1.4</text><text x="186.96" y="47.5" font-size="16.5" textLength="4.27" lengthAdjust="spacingAndGlyphs" >)</text><text x="195.05" y="47.0" font-size="14" textLength="36.11" lengthAdjust="spacingAndGlyphs" >MS1b</text><text x="126.09" y="69.3" font-size="16.5" textLength="4.14" lengthAdjust="spacingAndGlyphs" >(</text><text x="130.34" y="68.8" font-size="14" textLength="19.69" lengthAdjust="spacingAndGlyphs" >1.4</text><path d="M154.45,65.00h8.8M158.85,60.60v8.8" stroke="#111" stroke-width="0.85" fill="none"/><text x="167.74" y="68.8" font-size="14" textLength="19.80" lengthAdjust="spacingAndGlyphs" >1.4</text><text x="186.96" y="69.3" font-size="16.5" textLength="4.27" lengthAdjust="spacingAndGlyphs" >)</text><text x="194.36" y="68.8" font-size="14" textLength="24.57" lengthAdjust="spacingAndGlyphs" >SLy</text><text x="126.09" y="91.2" font-size="16.5" textLength="4.14" lengthAdjust="spacingAndGlyphs" >(</text><text x="130.73" y="90.7" font-size="14" textLength="25.85" lengthAdjust="spacingAndGlyphs" >1.65</text><path d="M161.40,86.90h8.8M165.80,82.50v8.8" stroke="#111" stroke-width="0.85" fill="none"/><text x="175.49" y="90.7" font-size="14" textLength="24.66" lengthAdjust="spacingAndGlyphs" >1.15</text><text x="201.85" y="91.2" font-size="16.5" textLength="4.40" lengthAdjust="spacingAndGlyphs" >)</text><text x="209.85" y="90.7" font-size="14" textLength="36.21" lengthAdjust="spacingAndGlyphs" >MS1b</text><text x="126.09" y="113.2" font-size="16.5" textLength="4.14" lengthAdjust="spacingAndGlyphs" >(</text><text x="130.73" y="112.7" font-size="14" textLength="25.85" lengthAdjust="spacingAndGlyphs" >1.65</text><path d="M161.40,108.90h8.8M165.80,104.50v8.8" stroke="#111" stroke-width="0.85" fill="none"/><text x="175.49" y="112.7" font-size="14" textLength="24.66" lengthAdjust="spacingAndGlyphs" >1.15</text><text x="201.85" y="113.2" font-size="16.5" textLength="4.40" lengthAdjust="spacingAndGlyphs" >)</text><text x="209.18" y="112.7" font-size="14" textLength="24.26" lengthAdjust="spacingAndGlyphs" >SLy</text><text x="38.36" y="63.9" font-size="14" textLength="7.72" lengthAdjust="spacingAndGlyphs" >2</text><text x="39.20" y="106.2" font-size="14" textLength="5.89" lengthAdjust="spacingAndGlyphs" >1</text><text x="38.53" y="148.7" font-size="14" textLength="7.23" lengthAdjust="spacingAndGlyphs" >0</text><text x="39.20" y="191.1" font-size="14" textLength="5.89" lengthAdjust="spacingAndGlyphs" >1</text><path d="M29.1,187.45H36.3" stroke="#111" stroke-width="0.85" fill="none"/><text x="38.36" y="233.5" font-size="14" textLength="7.72" lengthAdjust="spacingAndGlyphs" >2</text><path d="M29.1,229.85H36.3" stroke="#111" stroke-width="0.85" fill="none"/><text x="127.41" y="265.3" font-size="14" textLength="22.47" lengthAdjust="spacingAndGlyphs" >100</text><text x="331.73" y="265.3" font-size="14" textLength="29.55" lengthAdjust="spacingAndGlyphs" >1000</text></g><g font-family="Liberation Serif, serif" font-size="16" fill="#111"><text x="199.30" y="290" font-size="16" textLength="4.53" lengthAdjust="spacingAndGlyphs" font-style="italic">f</text><text x="206.14" y="292.4" font-size="11.6" textLength="19.69" lengthAdjust="spacingAndGlyphs" >GW</text><text x="230.47" y="290.3" font-size="19.5" textLength="3.36" lengthAdjust="spacingAndGlyphs" >[</text><text x="234.46" y="290" font-size="16" textLength="18.29" lengthAdjust="spacingAndGlyphs" >Hz</text><text x="253.36" y="290.3" font-size="19.5" textLength="3.36" lengthAdjust="spacingAndGlyphs" >]</text><g transform="translate(15.1,209.8) rotate(-90)"><text x="1.55" y="0" font-size="16" textLength="9.85" lengthAdjust="spacingAndGlyphs" >Ψ</text><text x="13.16" y="2.6" font-size="11.6" textLength="24.07" lengthAdjust="spacingAndGlyphs" >EOB</text><path d="M42.8,-4.5H53.0" stroke="#111" stroke-width="0.9" fill="none"/><text x="59.25" y="0" font-size="16" textLength="9.95" lengthAdjust="spacingAndGlyphs" >Ψ</text><text x="70.28" y="2.6" font-size="11.6" textLength="45.00" lengthAdjust="spacingAndGlyphs" >TaylorF2</text><text x="119.64" y="0.5" font-size="19.5" textLength="3.06" lengthAdjust="spacingAndGlyphs" >[</text><text x="123.46" y="0" font-size="16" textLength="21.18" lengthAdjust="spacingAndGlyphs" >rad</text><text x="145.88" y="0.5" font-size="19.5" textLength="3.21" lengthAdjust="spacingAndGlyphs" >]</text></g></g></svg></body></html>
